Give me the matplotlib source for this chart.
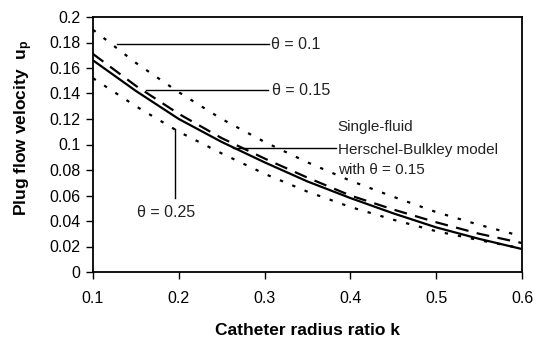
from matplotlib import pyplot as plt

# catheter radius ratio k
k = [0.1, 0.15, 0.2, 0.25, 0.3, 0.35, 0.4, 0.45, 0.5, 0.55, 0.6]

# plug flow velocity u_p
up_theta010 = [0.190, 0.164, 0.141, 0.120, 0.102, 0.086, 0.0716, 0.059, 0.047, 0.037, 0.028]
up_theta015 = [0.171, 0.146, 0.124, 0.105, 0.089, 0.074, 0.060, 0.049, 0.039, 0.030, 0.0227]
up_hb015 = [0.166, 0.142, 0.120, 0.102, 0.086, 0.071, 0.058, 0.046, 0.035, 0.026, 0.018]
up_theta025 = [0.152, 0.130, 0.110, 0.093, 0.077, 0.063, 0.051, 0.041, 0.032, 0.025, 0.0185]

xticks = [0.1, 0.2, 0.3, 0.4, 0.5, 0.6]
yticks = [0, 0.02, 0.04, 0.06, 0.08, 0.1, 0.12, 0.14, 0.16, 0.18, 0.2]

plt.rcParams["font.family"] = ["Liberation Sans", "DejaVu Sans"]
plt.rcParams["mathtext.fontset"] = "custom"
plt.rcParams["mathtext.rm"] = "Liberation Sans"
plt.rcParams["mathtext.bf"] = "Liberation Sans:bold"

fig = plt.figure(figsize=(5.39, 3.42), dpi=100)
ax = fig.add_axes([93/539, 70/342, 429/539, 255/342])

ax.plot(k, up_theta010, color="black", lw=1.6, linestyle=(0, (1.5, 4.5)))
ax.plot(k, up_theta015, color="black", lw=1.6, linestyle=(0, (5.8, 3.8)))
ax.plot(k, up_hb015, color="black", lw=1.6)
ax.plot(k, up_theta025, color="black", lw=1.6, linestyle=(0, (1.5, 4.5)))

ax.set_xlim(0.1, 0.6)
ax.set_ylim(0, 0.2)
ax.set_xticks(xticks)
ax.set_xticklabels([str(t) for t in xticks])
ax.set_yticks(yticks)
ax.set_yticklabels([f"{t:g}" for t in yticks])
ax.tick_params(labelsize=11.5, length=5, width=1, direction="out", pad=4)
ax.tick_params(axis="x", pad=9)
for s in ax.spines.values():
    s.set_linewidth(1.3)

# leader lines + labels
txtc = "#222222"
ax.plot([0.128, 0.305], [0.1786, 0.1786], color="black", lw=1)
ax.text(0.308, 0.1786, "θ = 0.1", fontsize=11.5, color=txtc, va="center")
ax.plot([0.162, 0.304], [0.1425, 0.1425], color="black", lw=1)
ax.text(0.309, 0.1425, "θ = 0.15", fontsize=11.5, color=txtc, va="center")
ax.plot([0.263, 0.383], [0.0975, 0.0975], color="black", lw=1)
ax.text(0.385, 0.1137, "Single-fluid", fontsize=11, color=txtc, va="center")
ax.text(0.385, 0.0960, "Herschel-Bulkley model", fontsize=11, color=txtc, va="center")
ax.text(0.385, 0.0800, "with θ = 0.15", fontsize=11, color=txtc, va="center")
ax.plot([0.196, 0.196], [0.058, 0.1125], color="black", lw=1)
ax.text(0.151, 0.0463, "θ = 0.25", fontsize=11.5, color=txtc, va="center")

ax.set_xlabel("Catheter radius ratio k", fontsize=12.5, fontweight="bold", labelpad=12)
fig.text(24/539, 1 - 128/342, "Plug flow velocity  $\\mathbf{u_p}$", rotation=90,
         fontsize=12.5, fontweight="bold", ha="center", va="center")

fig.savefig("out.png", dpi=100)
